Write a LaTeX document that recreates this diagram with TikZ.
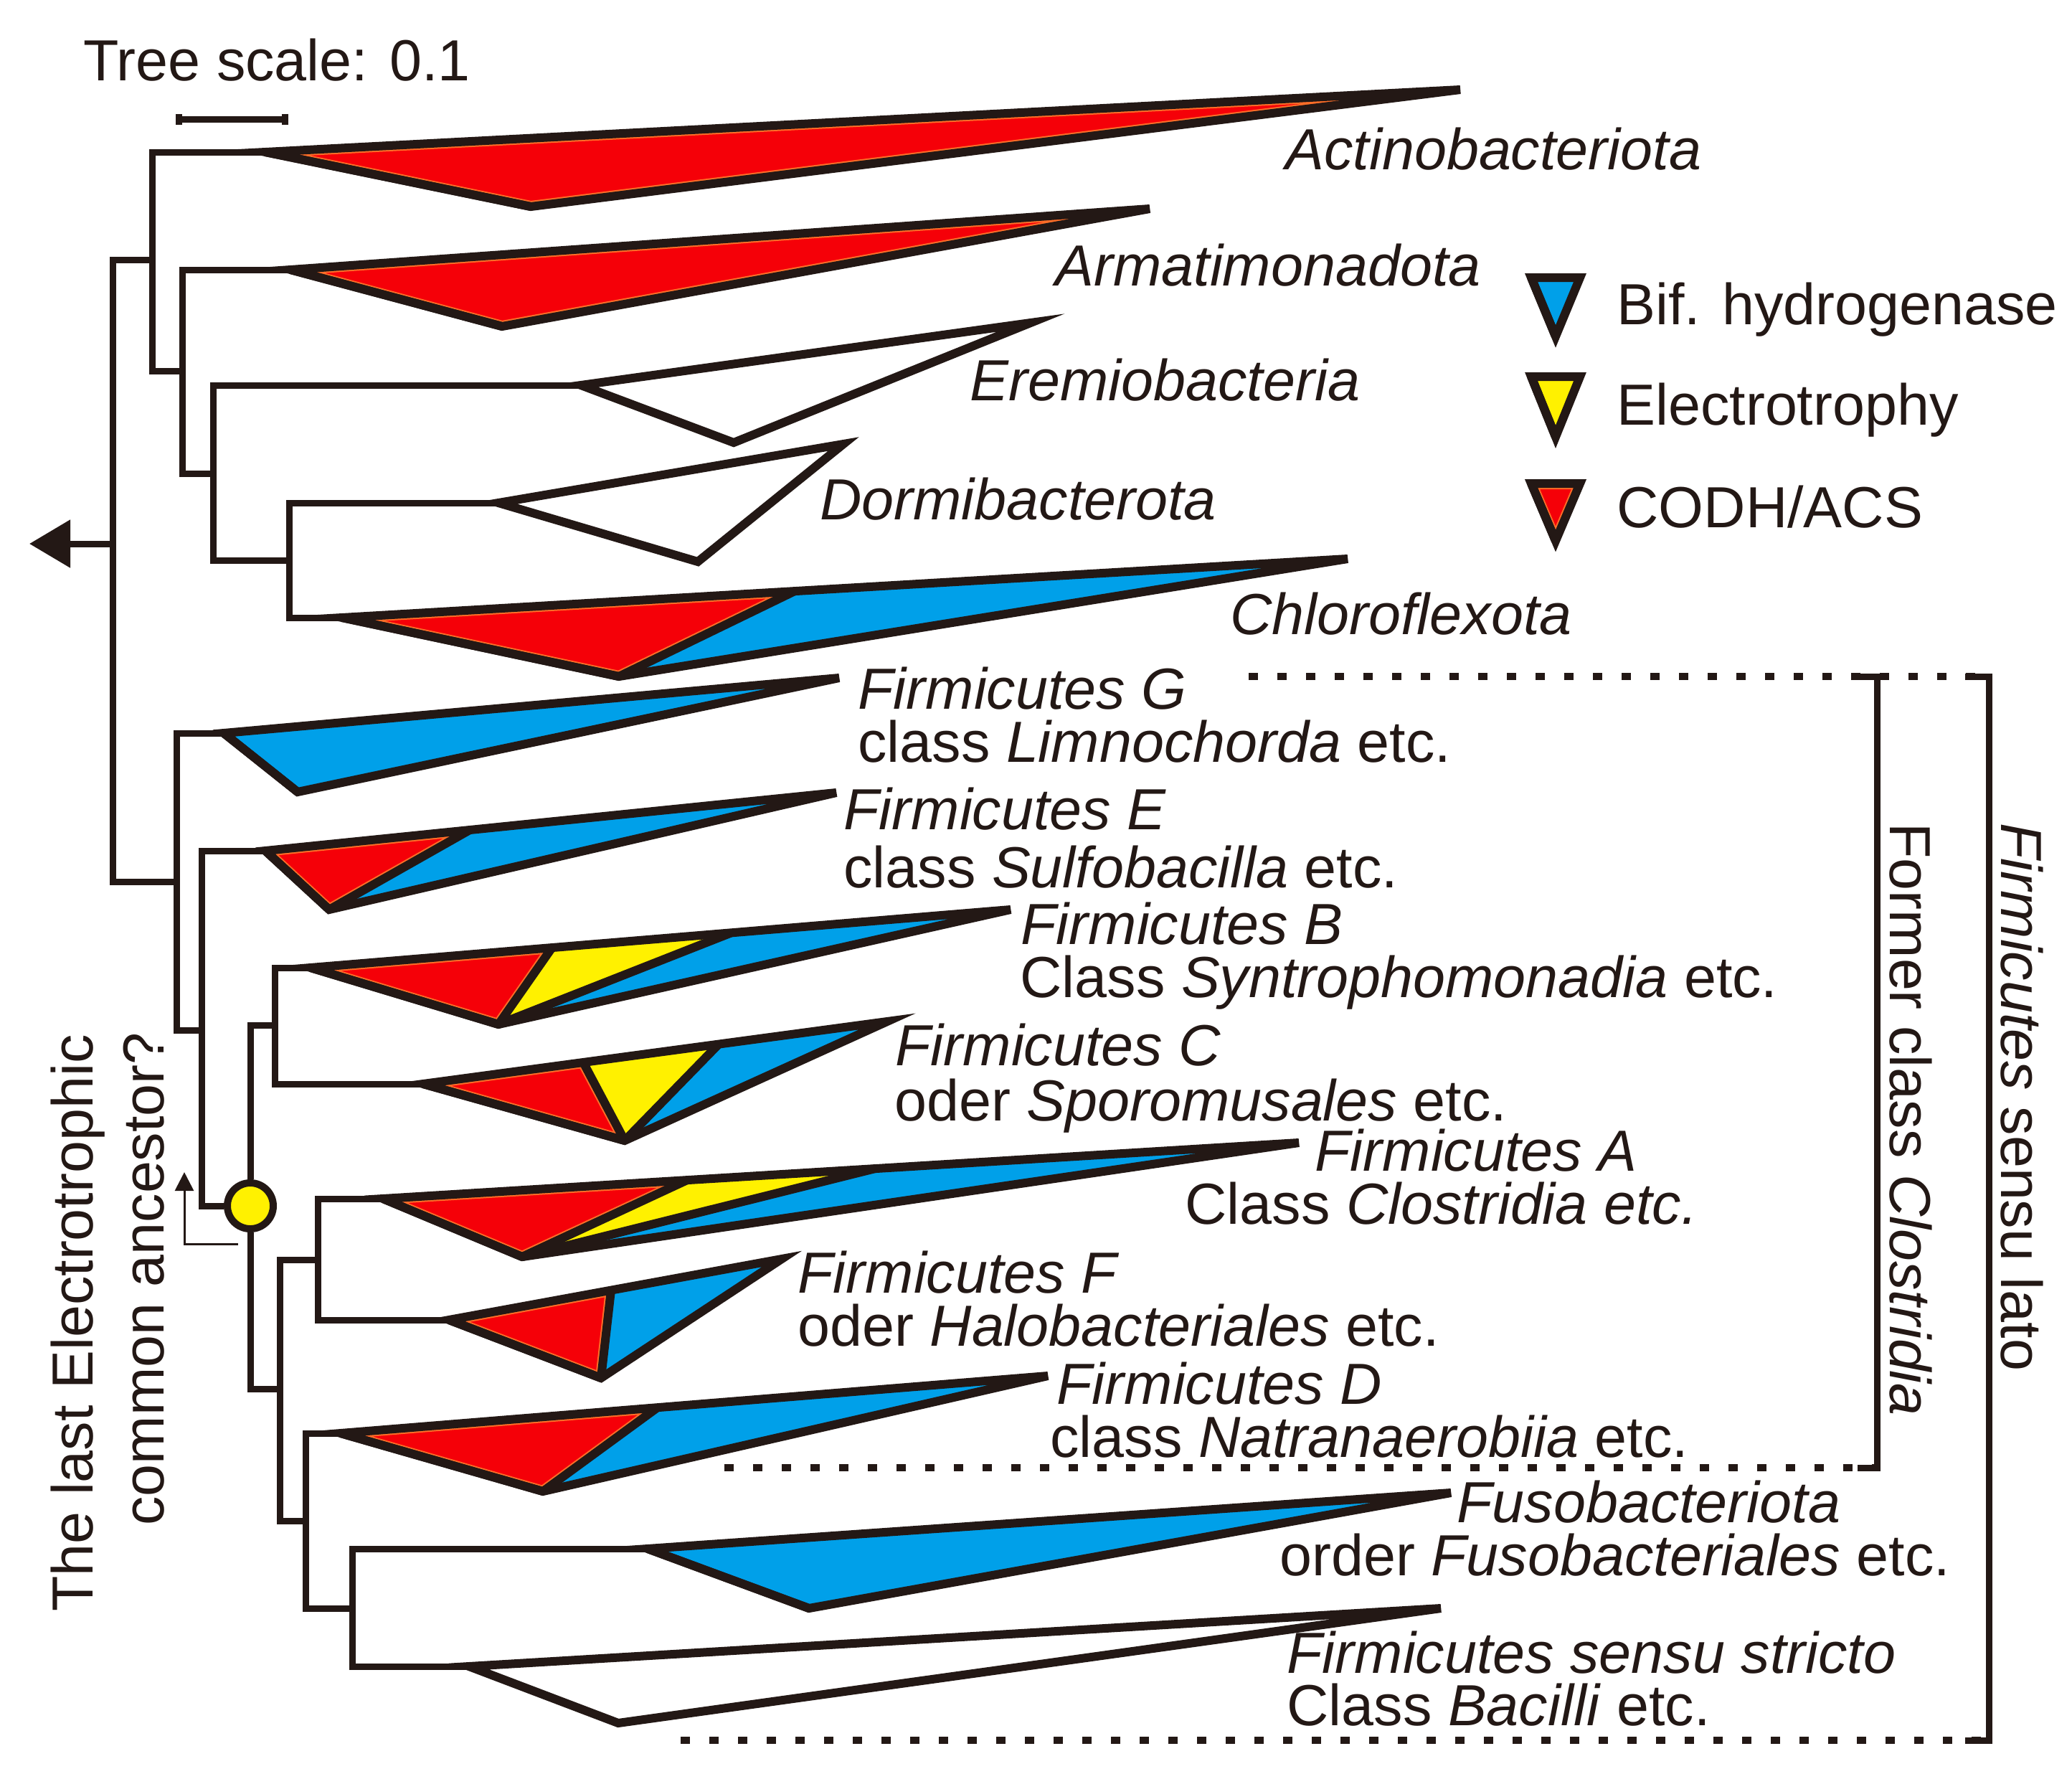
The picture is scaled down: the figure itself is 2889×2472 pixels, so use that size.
\documentclass[tikz,border=0pt]{standalone}
\usepackage{fontspec}
\setmainfont{Liberation Sans}
\usepackage{tikz}
\usetikzlibrary{calc, arrows.meta}
\definecolor{ink}{RGB}{35,24,21}
\definecolor{bifblue}{RGB}{0,160,233}
\definecolor{elecyellow}{RGB}{255,241,0}
\definecolor{codhred}{RGB}{245,0,8}
\definecolor{codhedge}{RGB}{255,110,40}
\newcommand{\labelfont}{\fontsize{11.5}{13}\selectfont}
\tikzset{
    branch/.style={draw=ink, line width=0.45mm},
    clade/.style={draw=ink, line width=0.6mm, line join=miter},
    codh/.style={fill=codhred, draw=codhedge, line width=0.8mm},
    bif/.style={fill=bifblue},
    elec/.style={fill=elecyellow},
    taxon/.style={font=\labelfont, text=ink, anchor=base west, inner sep=0pt},
    leca/.style={circle, draw=ink, fill=elecyellow, line width=0.5mm, minimum size=3.2mm, inner sep=0pt},
    dots/.style={draw=ink, line width=0.5mm, dash pattern=on 0.65mm off 1.35mm},
    bracket/.style={draw=ink, line width=0.45mm},
    pointer/.style={draw=ink, line width=0.15mm, -{Triangle[length=1.3mm, width=1.3mm]}}
}
% clade wedge: #1 apex, #1-t top tip, #1-b lower corner; #2 = style/from/to
\newcommand{\drawclade}[2]{%
    \begin{scope}
        \clip (#1) -- (#1-t) -- (#1-b) -- cycle;
        \foreach \regsty/\rega/\regb in {#2}{
            \path[\regsty] ($(#1)!\rega!(#1-t)$) -- ($(#1)!\regb!(#1-t)$) -- (#1-b) -- cycle;
        }
    \end{scope}
    \foreach \regsty/\rega/\regb in {#2}{
        \draw[clade] ($(#1)!\rega!(#1-t)$) -- (#1-b);
    }
    \draw[clade] (#1) -- (#1-t) -- (#1-b) -- cycle;
}

\begin{document}
\begin{tikzpicture}[x=0.05mm, y=-0.05mm]
        \fill[white] (0,0) rectangle (2889,2472);
        \useasboundingbox (0,0) rectangle (2889,2472);

        % Tree scale
        \coordinate (sbL) at (245,166);
        \coordinate (sbR) at (402,166);
        \draw[branch, {Bar[width=0.75mm]}-{Bar[width=0.75mm]}] (sbL) -- (sbR);
        \node[taxon] (scaleLbl) at (115,112) {Tree scale: 0.1};

        % Clade wedges (apex, top tip, lower corner)
        \coordinate (actino) at (370,212);   \coordinate (actino-t) at (2036,125);  \coordinate (actino-b) at (740,288);
        \coordinate (armat) at (405,376);    \coordinate (armat-t) at (1603,291);   \coordinate (armat-b) at (700,455);
        \coordinate (eremio) at (810,537);   \coordinate (eremio-t) at (1437,450);  \coordinate (eremio-b) at (1023,617);
        \coordinate (dormi) at (695,701);    \coordinate (dormi-t) at (1176,619);   \coordinate (dormi-b) at (973,783);
        \coordinate (chloro) at (477,861);   \coordinate (chloro-t) at (1879,779);  \coordinate (chloro-b) at (863,943);
        \coordinate (firmG) at (312,1022);   \coordinate (firmG-t) at (1170,945);   \coordinate (firmG-b) at (415,1104);
        \coordinate (firmE) at (370,1186);   \coordinate (firmE-t) at (1166,1105);  \coordinate (firmE-b) at (459,1268);
        \coordinate (firmB) at (433,1349);   \coordinate (firmB-t) at (1409,1268);  \coordinate (firmB-b) at (695,1428);
        \coordinate (firmC) at (590,1511);   \coordinate (firmC-t) at (1237,1424);  \coordinate (firmC-b) at (871,1590);
        \coordinate (firmA) at (534,1671);   \coordinate (firmA-t) at (1811,1593);  \coordinate (firmA-b) at (728,1752);
        \coordinate (firmF) at (626,1840);   \coordinate (firmF-t) at (1090,1755);  \coordinate (firmF-b) at (838,1921);
        \coordinate (firmD) at (475,1998);   \coordinate (firmD-t) at (1461,1918);  \coordinate (firmD-b) at (757,2079);
        \coordinate (fuso) at (903,2159);    \coordinate (fuso-t) at (2023,2081);   \coordinate (fuso-b) at (1128,2242);
        \coordinate (stricto) at (654,2323); \coordinate (stricto-t) at (2009,2242); \coordinate (stricto-b) at (862,2402);

        % Inner nodes of the tree
        \coordinate (root) at (157,758);
        \coordinate (rootTip) at (41,758);
        \coordinate (nA) at (212,362);
        \coordinate (nB) at (254,517);
        \coordinate (nC) at (297,660);
        \coordinate (nD) at (403,781);
        \coordinate (f1) at (246,1229);
        \coordinate (f2) at (281,1436);
        \coordinate (nBC) at (383,1429);
        \coordinate (nLow) at (390,1936);
        \coordinate (nAF) at (443,1756);
        \coordinate (nDX) at (426,2120);
        \coordinate (nFS) at (491,2242);
        \node[leca] (lecaNode) at (349,1681) {};

        % Branches
        \foreach \kid/\anc in {actino/nA, nB/nA, armat/nB, nC/nB, eremio/nC, nD/nC, dormi/nD, chloro/nD,
                nA/root, f1/root, firmG/f1, f2/f1, firmE/f2, lecaNode/f2, nBC/lecaNode, nLow/lecaNode,
                firmB/nBC, firmC/nBC, nAF/nLow, nDX/nLow, firmA/nAF, firmF/nAF, firmD/nDX, nFS/nDX,
                fuso/nFS, stricto/nFS}
            \draw[branch] (\kid) -| (\anc);
        \draw[branch, -{Triangle[length=2.85mm, width=3.25mm]}] (root) -- (rootTip);

        \drawclade{actino}{codh/0/1}
        \drawclade{armat}{codh/0/1}
        \draw[clade, fill=white] (eremio) -- (eremio-t) -- (eremio-b) -- cycle;
        \draw[clade, fill=white] (dormi) -- (dormi-t) -- (dormi-b) -- cycle;
        \drawclade{chloro}{codh/0/0.45, bif/0.45/1}
        \drawclade{firmG}{bif/0/1}
        \drawclade{firmE}{codh/0/0.358, bif/0.358/1}
        \drawclade{firmB}{codh/0/0.345, elec/0.345/0.601, bif/0.601/1}
        \drawclade{firmC}{codh/0/0.345, elec/0.345/0.637, bif/0.637/1}
        \drawclade{firmA}{codh/0/0.332, elec/0.332/0.537, bif/0.537/1}
        \drawclade{firmF}{codh/0/0.487, bif/0.487/1}
        \drawclade{firmD}{codh/0/0.448, bif/0.448/1}
        \drawclade{fuso}{bif/0/1}
        \draw[clade, fill=white] (stricto) -- (stricto-t) -- (stricto-b) -- cycle;

        % Last electrotrophic common ancestor
        \coordinate (ptrFoot) at (332,1734);
        \coordinate (ptrTip) at (257,1634);
        \draw[pointer] (ptrFoot) -| (ptrTip);
        \node[taxon, rotate=90] (lLast) at (129,2248) {The last Electrotrophic};
        \node[taxon, rotate=90] (lCommon) at (228,2128) {common ancestor?};

        % Taxon labels
        \node[taxon] (lActino) at (1791,236) {\textit{Actinobacteriota}};
        \node[taxon] (lArmat) at (1470,398) {\textit{Armatimonadota}};
        \node[taxon] (lEremio) at (1351,558) {\textit{Eremiobacteria}};
        \node[taxon] (lDormi) at (1142,724) {\textit{Dormibacterota}};
        \node[taxon] (lChloro) at (1714,884) {\textit{Chloroflexota}};
        \node[taxon] (lG1) at (1195,988) {\textit{Firmicutes G}};
        \node[taxon] (lG2) at (1195,1062) {class \textit{Limnochorda} etc.};
        \node[taxon] (lE1) at (1175,1156) {\textit{Firmicutes E}};
        \node[taxon] (lE2) at (1175,1237) {class \textit{Sulfobacilla} etc.};
        \node[taxon] (lB1) at (1422,1316) {\textit{Firmicutes B}};
        \node[taxon] (lB2) at (1421,1390) {Class \textit{Syntrophomonadia} etc.};
        \node[taxon] (lC1) at (1247,1485) {\textit{Firmicutes C}};
        \node[taxon] (lC2) at (1246,1562) {oder \textit{Sporomusales} etc.};
        \node[taxon] (lA1) at (1832,1632) {\textit{Firmicutes A}};
        \node[taxon] (lA2) at (1651,1706) {Class \textit{Clostridia etc.}};
        \node[taxon] (lF1) at (1111,1802) {\textit{Firmicutes F}};
        \node[taxon] (lF2) at (1111,1876) {oder \textit{Halobacteriales} etc.};
        \node[taxon] (lD1) at (1472,1957) {\textit{Firmicutes D}};
        \node[taxon] (lD2) at (1463,2031) {class \textit{Natranaerobiia} etc.};
        \node[taxon] (lFu1) at (2030,2122) {\textit{Fusobacteriota}};
        \node[taxon] (lFu2) at (1783,2196) {order \textit{Fusobacteriales} etc.};
        \node[taxon] (lS1) at (1793,2332) {\textit{Firmicutes sensu stricto}};
        \node[taxon] (lS2) at (1793,2405) {Class \textit{Bacilli} etc.};

        % Legend
        \coordinate (keyB) at (2135,387); \coordinate (keyB-t) at (2203,387); \coordinate (keyB-b) at (2169,469);
        \coordinate (keyY) at (2135,525); \coordinate (keyY-t) at (2203,525); \coordinate (keyY-b) at (2169,609);
        \coordinate (keyR) at (2135,674); \coordinate (keyR-t) at (2203,674); \coordinate (keyR-b) at (2169,754);
        \drawclade{keyB}{bif/0/1}
        \drawclade{keyY}{elec/0/1}
        \drawclade{keyR}{codh/0/1}
        \node[taxon] (kBif) at (2253,452) {Bif. hydrogenase};
        \node[taxon] (kElec) at (2253,592) {Electrotrophy};
        \node[taxon] (kCodh) at (2253,735) {CODH/ACS};

        % Brackets
        \coordinate (dotG) at (1741,943);
        \coordinate (dotD) at (1010,2046);
        \coordinate (dotS) at (949,2426);
        \coordinate (clTop) at (2617,943);
        \coordinate (clBot) at (2617,2046);
        \coordinate (slTop) at (2773,943);
        \coordinate (slBot) at (2773,2426);
        \draw[dots] (dotG) -- (slTop);
        \draw[dots] (dotD) -- (clBot);
        \draw[dots] (dotS) -- (slBot);
        \draw[bracket] ($(clTop)+(-27,0)$) -- (clTop) -- (clBot) -- ($(clBot)+(-27,0)$);
        \draw[bracket] ($(slTop)+(-33,0)$) -- (slTop) -- (slBot) -- ($(slBot)+(-33,0)$);
        \node[taxon, rotate=-90] (lClos) at (2635,1146) {Former class \textit{Clostridia}};
        \node[taxon, rotate=-90] (lLato) at (2790,1146) {\textit{Firmicutes} sensu lato};
    \end{tikzpicture}
\end{document}
